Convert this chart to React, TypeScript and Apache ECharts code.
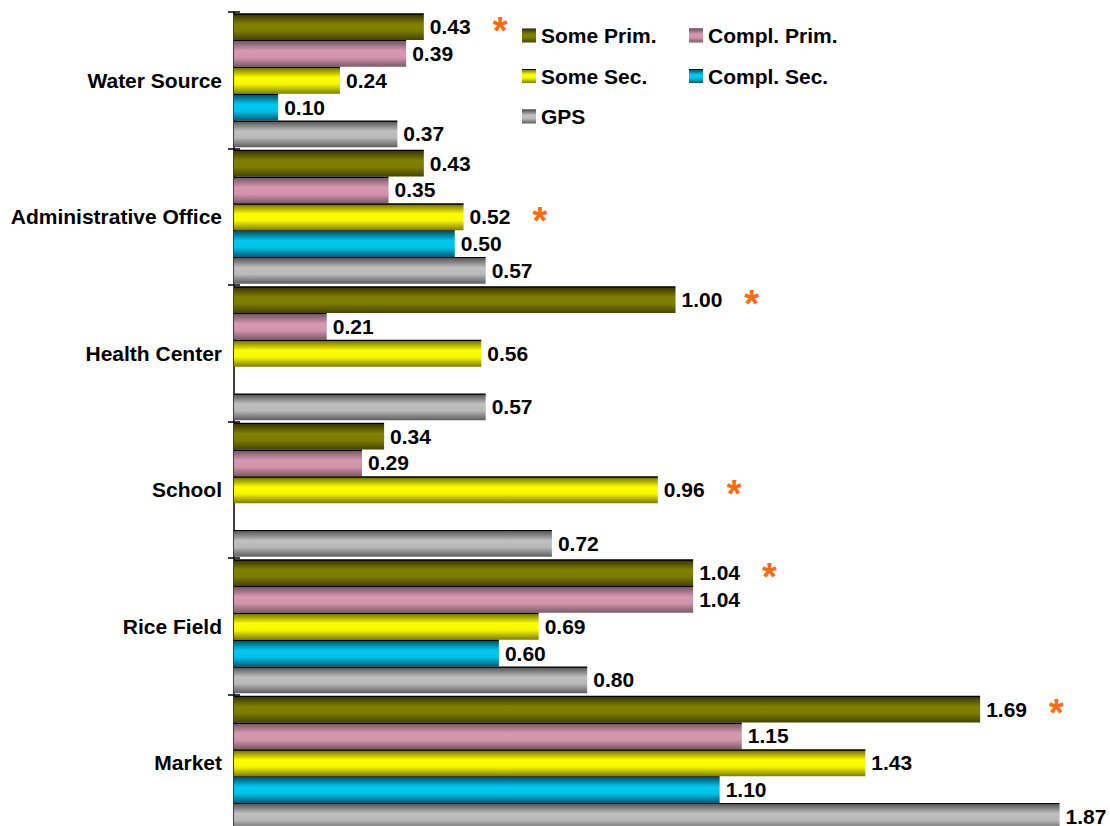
import React, { useEffect, useRef } from "react";
import * as echarts from "echarts";

const categories = ["Water Source", "Administrative Office", "Health Center", "School", "Rice Field", "Market"];
const seriesNames = ["Some Prim.", "Compl. Prim.", "Some Sec.", "Compl. Sec.", "GPS"];
const somePrim = [0.43, 0.43, 1.0, 0.34, 1.04, 1.69];
const complPrim = [0.39, 0.35, 0.21, 0.29, 1.04, 1.15];
const someSec = [0.24, 0.52, 0.56, 0.96, 0.69, 1.43];
const complSec = [0.1, 0.5, null, null, 0.6, 1.1];
const gps = [0.37, 0.57, 0.57, 0.72, 0.8, 1.87];
// significance markers (*)
const somePrimStar = [true, false, true, false, true, true];
const someSecStar = [false, true, false, true, false, false];
const noStar = [false, false, false, false, false, false];

const seriesValues = [somePrim, complPrim, someSec, complSec, gps];
const seriesStars = [somePrimStar, noStar, someSecStar, noStar, noStar];

// gradient palettes: [edgeTop, middle, middle2, edgeBottom]
const palettes = [
  ["#383800", "#808000", "#7c7c00", "#434300"],
  ["#7a5868", "#d698b0", "#d294ab", "#7a5868"],
  ["#787800", "#ffff00", "#f6f600", "#7e7e00"],
  ["#005468", "#00c8f0", "#00c2e8", "#005e78"],
  ["#585858", "#c0c0c0", "#b8b8b8", "#5e5e5e"],
];

const FONT = "'Liberation Sans', Arial, sans-serif";

function grad(p: string[]) {
  return new echarts.graphic.LinearGradient(0, 0, 0, 1, [
    { offset: 0, color: "#000000" },
    { offset: 0.04, color: "#000000" },
    { offset: 0.05, color: p[0] },
    { offset: 0.4, color: p[1] },
    { offset: 0.65, color: p[2] },
    { offset: 1, color: p[3] },
  ]);
}

export default function App() {
  const ref = useRef<HTMLDivElement>(null);
  useEffect(() => {
    if (!ref.current) return;
    const chart = echarts.init(ref.current, undefined, { renderer: "svg" });
    const series = seriesNames.map((name, si) => ({
      name,
      type: "bar",
      yAxisIndex: 0,
      barGap: "0%",
      barCategoryGap: "2%",
      itemStyle: { color: grad(palettes[si]) },
      data: seriesValues[si].map((v) => (v === null ? "-" : v)),
      label: {
        show: true,
        position: "right",
        distance: 6,
        formatter: (p: any) => {
          const val = Number(p.value).toFixed(2);
          return seriesStars[si][p.dataIndex] ? `{v|${val}}{s|*}` : `{v|${val}}`;
        },
        rich: {
          v: { fontFamily: FONT, fontWeight: "bold", fontSize: 21, color: "#000" },
          s: {
            fontFamily: FONT,
            fontWeight: "bold",
            fontSize: 38,
            color: "#ff6a10",
            padding: [8, 0, 0, 22],
            verticalAlign: "top",
          },
        },
      },
    }));
    const legendCommon = {
      orient: "vertical",
      top: 25,
      padding: 0,
      itemWidth: 14,
      itemHeight: 14,
      itemGap: 19.5,
      icon: "rect",
      textStyle: { fontFamily: FONT, fontWeight: "bold", fontSize: 21, color: "#000" },
    };
    chart.setOption({
      animation: false,
      backgroundColor: "#ffffff",
      grid: { left: 234, top: 12, width: 883, height: 819, containLabel: false },
      xAxis: { type: "value", min: 0, max: 2, show: false },
      yAxis: [
        {
          type: "category",
          data: categories,
          inverse: true,
          position: "left",
          axisLine: { show: true, lineStyle: { color: "#000", width: 1.5 } },
          axisTick: { show: true, length: 6, lineStyle: { color: "#000", width: 1.5 } },
          axisLabel: {
            fontFamily: FONT,
            fontWeight: "bold",
            fontSize: 21,
            color: "#000",
            margin: 12,
          },
          splitLine: { show: false },
        },
        {
          type: "category",
          data: categories,
          inverse: true,
          position: "left",
          axisLine: { show: false },
          axisTick: { show: true, inside: true, length: 6, lineStyle: { color: "#000", width: 1.5 } },
          axisLabel: { show: false },
          splitLine: { show: false },
        },
      ],
      legend: [
        { ...legendCommon, data: ["Some Prim.", "Some Sec.", "GPS"], left: 522 },
        { ...legendCommon, data: ["Compl. Prim.", "Compl. Sec."], left: 689 },
      ],
      series,
    });
    return () => chart.dispose();
  }, []);
  return (
    <div
      ref={ref}
      style={{ position: "fixed", left: 0, top: 0, width: 1140, height: 850, background: "#fff" }}
    />
  );
}
